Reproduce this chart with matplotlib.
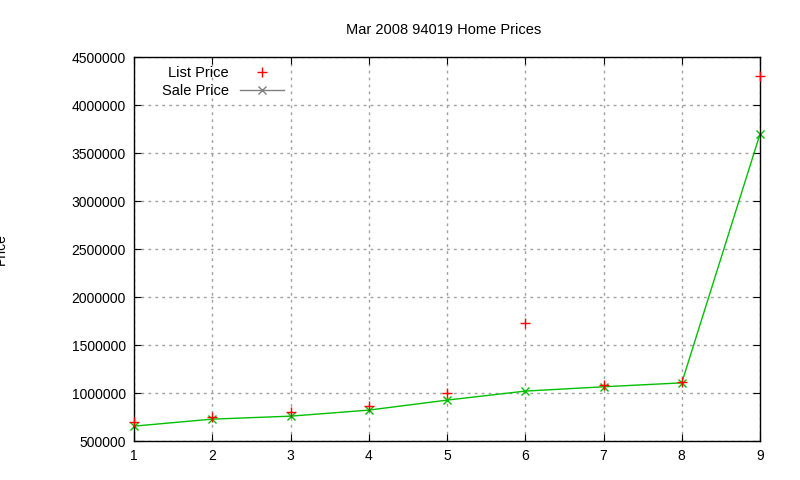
import matplotlib
matplotlib.use('Agg')
import matplotlib.pyplot as plt

# values
x = [1, 2, 3, 4, 5, 6, 7, 8, 9]
list_price = [701000, 747000, 799000, 865000, 997000, 1726000, 1083000, 1118000, 4302000]
sale_price = [656000, 729000, 760000, 823000, 927000, 1021000, 1066000, 1107000, 3698000]

plt.rcParams['font.family'] = 'Liberation Sans'
fig = plt.figure(figsize=(8, 4.8), dpi=100)
ax = fig.add_axes([0.1675, 0.081, 0.7825, 0.8])

ax.plot(x, list_price, linestyle='none', marker='+', color='#ff0000', markersize=7,
        markeredgewidth=1, label='List Price', clip_on=False, zorder=3)
ax.plot(x, sale_price, color='#00c000', marker='x', markersize=6, markeredgewidth=1,
        linewidth=1, label='Sale Price', clip_on=False, zorder=2)

ax.set_xlim(1, 9)
ax.set_ylim(500000, 4500000)
ax.set_xticks(x)
ax.set_yticks(range(500000, 4500001, 500000))
ax.ticklabel_format(axis='y', style='plain', useOffset=False)
ax.grid(True, color='#a0a0a0', linestyle=(0, (2, 3)), linewidth=1)
ax.tick_params(direction='in', labelsize=10, top=True, right=True, length=5, pad=6)
for s in ax.spines.values():
    s.set_linewidth(1)
ax.set_ylabel('Price', fontsize=10, labelpad=46)
fig.text(0.555, 0.93, 'Mar 2008 94019 Home Prices', ha='center', fontsize=10.5)

leg = ax.legend(loc='upper left', bbox_to_anchor=(0.03, 1.0), frameon=False,
                markerfirst=False, fontsize=10.5, handlelength=3, borderaxespad=0.2,
                labelspacing=0.3)
for t in leg.get_texts():
    t.set_ha('right')
# gnuplot draws the second key sample in gray
h = leg.legend_handles[1]
h.set_color('#808080')

fig.savefig('out.png', dpi=100)
